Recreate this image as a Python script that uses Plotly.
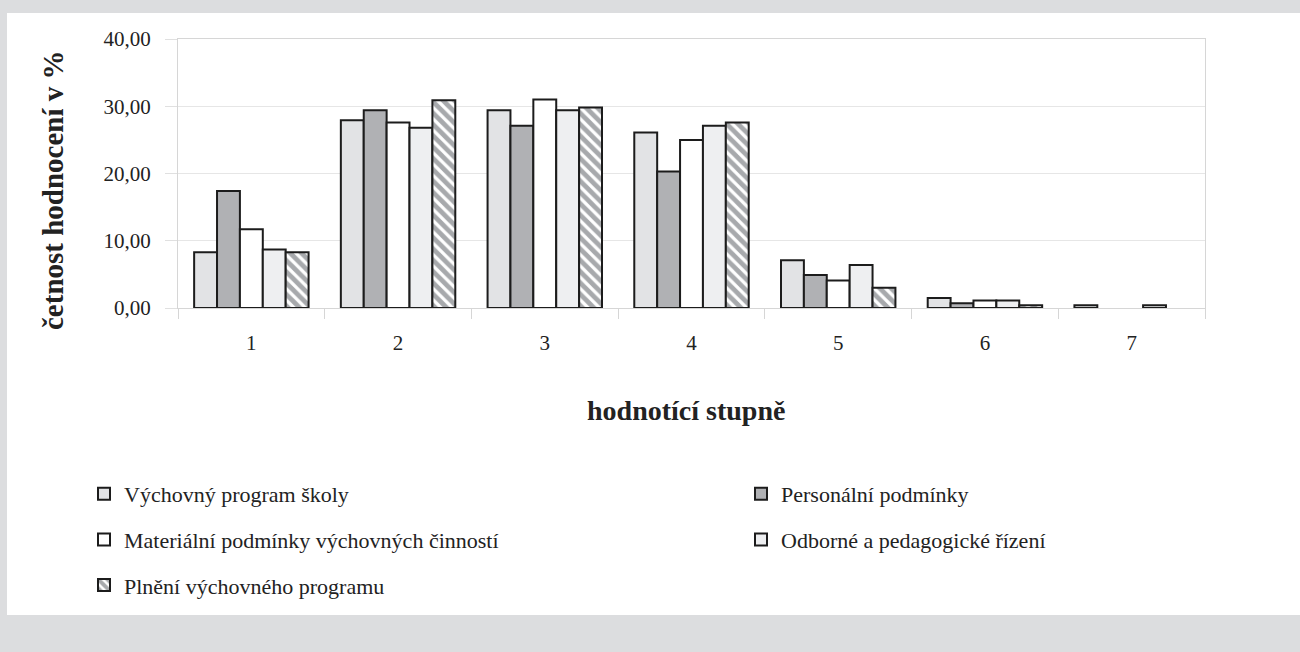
import plotly.graph_objects as go

# Hodnotící stupně (kategorie na ose x)
stupne = ["1", "2", "3", "4", "5", "6", "7"]

# Četnost hodnocení v % pro jednotlivé oblasti (None = bez hodnocení)
vychovny_program = [8.3, 27.9, 29.4, 26.1, 7.1, 1.5, 0.4]
personalni = [17.4, 29.4, 27.1, 20.3, 4.9, 0.7, None]
materialni = [11.7, 27.6, 31.0, 25.0, 4.1, 1.1, None]
odborne_rizeni = [8.7, 26.8, 29.4, 27.1, 6.4, 1.1, 0.4]
plneni_programu = [8.3, 30.9, 29.8, 27.6, 3.0, 0.4, None]

nazvy = [
    "Výchovný program školy",
    "Personální podmínky",
    "Materiální podmínky výchovných činností",
    "Odborné a pedagogické řízení",
    "Plnění výchovného programu",
]

W, H = 1300, 652
ML, MR, MT, MB = 178, 95, 39, 344
PW, PH = W - ML - MR, H - MT - MB


def px_x(x):
    return (x - ML) / PW


def px_y(y):
    return (H - MB - y) / PH


FONT = "Liberation Serif, Times New Roman, DejaVu Serif, serif"
TXT = "#222222"
OUTLINE = dict(color="#1c1c1c", width=2)

serie = [
    (nazvy[0], vychovny_program, dict(color="#e2e3e5", line=OUTLINE), "legend"),
    (nazvy[1], personalni, dict(color="#b0b1b4", line=OUTLINE), "legend2"),
    (nazvy[2], materialni, dict(color="#ffffff", line=OUTLINE), "legend"),
    (nazvy[3], odborne_rizeni, dict(color="#eeeff1", line=OUTLINE), "legend2"),
    (nazvy[4], plneni_programu,
     dict(color="#ffffff", line=OUTLINE,
          pattern=dict(shape="\\", fgcolor="#a7a9ac", bgcolor="#ffffff",
                       size=8, solidity=0.6, fillmode="replace")),
     "legend"),
]

fig = go.Figure()
for i, (nazev, hodnoty, marker, leg) in enumerate(serie):
    fig.add_trace(go.Bar(
        x=stupne, y=hodnoty, name=nazev, marker=marker,
        legend=leg, legendgroup=f"g{i}",
    ))

legend_style = dict(
    font=dict(family=FONT, size=22, color=TXT),
    bgcolor="rgba(0,0,0,0)", borderwidth=0,
    orientation="v", xanchor="left", yanchor="top",
    tracegroupgap=14, itemclick=False, itemdoubleclick=False,
)

fig.update_layout(
    width=W, height=H,
    margin=dict(l=ML, r=MR, t=MT, b=MB, autoexpand=False),
    paper_bgcolor="#dcdddf",
    plot_bgcolor="#ffffff",
    separators=", ",
    barmode="group",
    bargap=0.22,
    bargroupgap=0,
    font=dict(family=FONT, size=21, color=TXT),
    showlegend=True,
    legend=dict(legend_style, x=px_x(84), y=px_y(473)),
    legend2=dict(legend_style, x=px_x(741), y=px_y(473)),
    xaxis=dict(
        type="category", tickson="boundaries", ticks="outside", ticklen=10,
        tickcolor="#d6d6d6", showline=True, linecolor="#d6d6d6", linewidth=1,
        mirror=True, showgrid=False, ticklabelstandoff=16,
        tickfont=dict(family=FONT, size=21, color=TXT),
    ),
    yaxis=dict(
        range=[0, 40], tickvals=[0, 10, 20, 30, 40], tickformat=".2f",
        ticks="outside", ticklen=12, tickcolor="#e0e0e0",
        showline=True, linecolor="#d6d6d6", linewidth=1, mirror=True,
        showgrid=True, gridcolor="#e6e6e6", gridwidth=1, zeroline=False,
        ticklabelstandoff=10,
        tickfont=dict(family=FONT, size=21, color=TXT),
    ),
    shapes=[dict(
        type="rect", xref="paper", yref="paper", layer="below",
        x0=px_x(7), x1=px_x(1300), y0=px_y(615), y1=px_y(13),
        fillcolor="#ffffff", line=dict(width=0),
    )],
    annotations=[
        dict(text="<b>hodnotící stupně</b>", xref="paper", yref="paper",
             x=px_x(686), y=px_y(410), showarrow=False,
             xanchor="center", yanchor="middle",
             font=dict(family=FONT, size=28, color=TXT)),
        dict(text="<b>četnost hodnocení v %</b>", xref="paper", yref="paper",
             x=px_x(53), y=px_y(190), showarrow=False, textangle=-90,
             xanchor="center", yanchor="middle",
             font=dict(family=FONT, size=29, color=TXT)),
    ],
)

fig.write_html("out.html")
